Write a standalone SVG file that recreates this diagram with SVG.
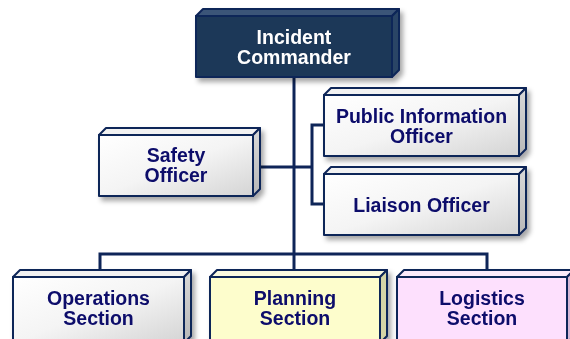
<svg xmlns="http://www.w3.org/2000/svg" width="570" height="339" viewBox="0 0 570 339">
<defs>
<linearGradient id="gW" x1="0" y1="0" x2="1" y2="1"><stop offset="0" stop-color="#ffffff"/><stop offset="0.5" stop-color="#f4f4f4"/><stop offset="1" stop-color="#d4d4d4"/></linearGradient>
<linearGradient id="sW" x1="0" y1="0" x2="0" y2="1"><stop offset="0" stop-color="#d8d8d8"/><stop offset="1" stop-color="#b8b8b8"/></linearGradient>
<filter id="sh" x="-10%" y="-10%" width="130%" height="140%"><feDropShadow dx="3" dy="4" stdDeviation="2.5" flood-color="#000" flood-opacity="0.35"/></filter>
<style>
.e{stroke:#0e2558;stroke-width:2;stroke-linejoin:round}
.fw{fill:url(#gW)}
.tw{fill:#f2f2f2}
.sw{fill:url(#sW)}
.t{font-family:"Liberation Sans",Arial,sans-serif;font-weight:bold;font-size:19.5px;fill:#0b0b6b;text-anchor:middle}
.ti{fill:#ffffff}
.c{fill:none;stroke:#0e2558;stroke-width:3;stroke-linejoin:miter}
</style>
</defs>
<g id="connectors">
<path class="c" d="M294,78 V270"/>
<path class="c" d="M100,270 V254 H487 V270"/>
<path class="c" d="M260,167 H312"/>
<path class="c" d="M324,125 H312 V204 H324"/>
</g>
<g id="incident-commander" filter="url(#sh)">
<polygon class="e" fill="#3a5478" points="196,16 203,9 399,9 392,16"/>
<polygon class="e" fill="#2a4466" points="392,16 399,9 399,70 392,77"/>
<rect class="e" fill="#1e3858" x="196" y="16" width="196" height="61"/>
<text class="t ti" x="294" y="44">Incident</text>
<text class="t ti" x="294" y="64">Commander</text>
</g>
<g id="safety-officer" filter="url(#sh)">
<polygon class="e tw" points="99,135 106,128 260,128 253,135"/>
<polygon class="e sw" points="253,135 260,128 260,189 253,196"/>
<rect class="e fw" x="99" y="135" width="154" height="61"/>
<text class="t" x="176" y="162">Safety</text>
<text class="t" x="176" y="182">Officer</text>
</g>
<g id="public-information-officer" filter="url(#sh)">
<polygon class="e tw" points="324,95 331,88 526,88 519,95"/>
<polygon class="e sw" points="519,95 526,88 526,149 519,156"/>
<rect class="e fw" x="324" y="95" width="195" height="61"/>
<text class="t" x="421.5" y="122.7">Public Information</text>
<text class="t" x="421.5" y="142.7">Officer</text>
</g>
<g id="liaison-officer" filter="url(#sh)">
<polygon class="e tw" points="324,174 331,167 526,167 519,174"/>
<polygon class="e sw" points="519,174 526,167 526,228 519,235"/>
<rect class="e fw" x="324" y="174" width="195" height="61"/>
<text class="t" x="421.5" y="212">Liaison Officer</text>
</g>
<g id="operations-section" filter="url(#sh)">
<polygon class="e tw" points="13,277 20,270 191,270 184,277"/>
<polygon class="e sw" points="184,277 191,270 191,336 184,343"/>
<rect class="e fw" x="13" y="277" width="171" height="66"/>
<text class="t" x="98.5" y="304.5">Operations</text>
<text class="t" x="98.5" y="324.5">Section</text>
</g>
<g id="planning-section" filter="url(#sh)">
<polygon class="e" fill="#fafae0" points="210,277 217,270 387,270 380,277"/>
<polygon class="e" fill="#d4d4a6" points="380,277 387,270 387,336 380,343"/>
<rect class="e" fill="#fdfdcc" x="210" y="277" width="170" height="66"/>
<text class="t" x="295" y="304.5">Planning</text>
<text class="t" x="295" y="324.5">Section</text>
</g>
<g id="logistics-section" filter="url(#sh)">
<polygon class="e" fill="#fbeafb" points="397,277 404,270 574,270 567,277"/>
<polygon class="e" fill="#d6b8d6" points="567,277 574,270 574,336 567,343"/>
<rect class="e" fill="#fde0fd" x="397" y="277" width="170" height="66"/>
<text class="t" x="482" y="304.5">Logistics</text>
<text class="t" x="482" y="324.5">Section</text>
</g>
</svg>
